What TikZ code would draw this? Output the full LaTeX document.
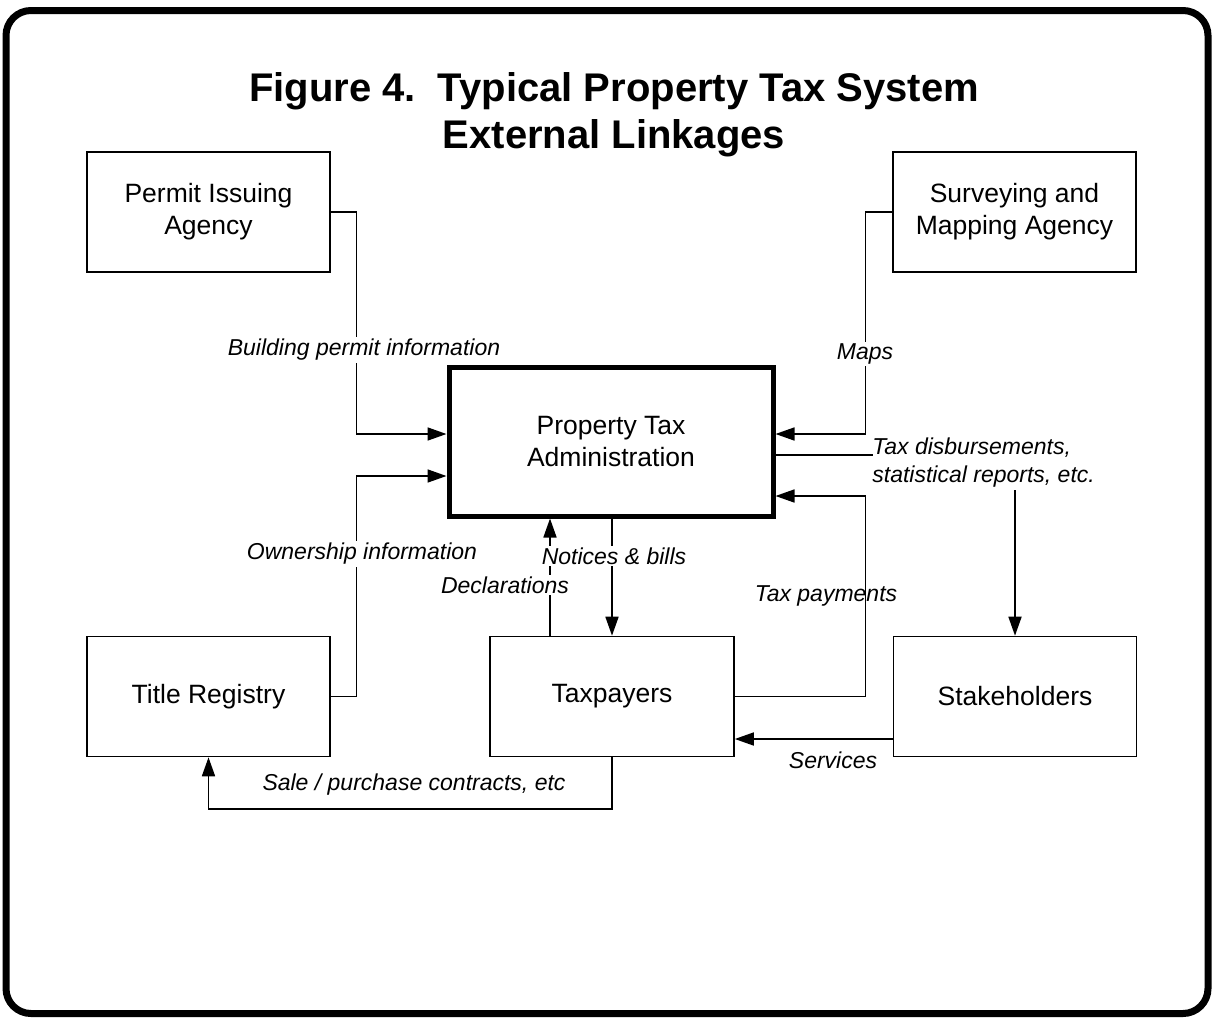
\documentclass[tikz,border=0pt]{standalone}
\usepackage{fontspec}
\setmainfont{Liberation Sans}
\usetikzlibrary{arrows.meta,calc}

\begin{document}
\begin{tikzpicture}[x=0.5pt,y=-0.5pt,
  box/.style={draw,line width=0.8pt,minimum width=121.5pt,minimum height=60pt,
    inner sep=0pt,align=center,font=\fontsize{13.25}{16}\selectfont},
  mainbox/.style={box,line width=2.5pt,minimum width=162pt,minimum height=74.5pt},
  link/.style={line width=0.85pt},
  arr/.style={link,-{Triangle[length=9.5pt,width=6.5pt]}},
  lbl/.style={font=\fontsize{11.5}{14}\selectfont\itshape,inner sep=1pt},
  masked/.style={lbl,fill=white},
  heading/.style={font=\fontsize{20}{23.5}\selectfont\bfseries,anchor=base}]

\useasboundingbox (0,0) rectangle (1215,1017);

% frame
\draw[line width=3.5pt,rounded corners=12.5pt] (6,10.5) rectangle (1208,1013.5);

% heading
\node[heading] (head1) at (614,101) {Figure 4.\ \ Typical Property Tax System};
\node[heading] (head2) at (614,148) {External Linkages};

% boxes
\node[box] (permit) at (208.5,212) {Permit Issuing\\Agency};
\node[box] (survey) at (1014.5,212) {Surveying and\\Mapping Agency};
\node[mainbox] (pta) at (611,441.5) {Property Tax\\Administration};
\node[box] (title) at (208.5,696.5) {Title Registry};
\node[box,minimum width=122pt] (taxp) at (612,696.5) {Taxpayers};
\node[box] (stake) at (1015,696.5) {Stakeholders};

% disbursement label (also the start of the arrow to the stakeholders)
\node[lbl,anchor=west,align=left] (disb) at (870,463)
  {Tax disbursements,\\statistical reports, etc.};

% connectors
\draw[arr] (permit.east) -| ($(pta.west)+(-90,-7.5)$) -- ($(pta.west)+(0,-7.5)$);
\draw[arr] (survey.west) -| ($(pta.east)+(90,-7.5)$) -- ($(pta.east)+(0,-7.5)$);
\draw[arr] (title.east) -| ($(pta.west)+(-90,34.5)$) -- ($(pta.west)+(0,34.5)$);
\draw[arr] (taxp.east) -| ($(pta.east)+(90,54.5)$) -- ($(pta.east)+(0,54.5)$);
\draw[link] ($(pta.east)+(0,13.5)$) -- ($(pta.east)+(97,13.5)$);
\draw[arr] (stake.north |- disb.south) -- (stake.north);
\draw[arr] (pta.south -| taxp.north) -- (taxp.north);
\draw[arr] ($(taxp.north)+(-62,0)$) -- ($(taxp.north |- pta.south)+(-62,0)$);
\draw[arr] ($(stake.west)+(0,42.5)$) -- ($(taxp.east)+(0,42.5)$);
\draw[arr] (taxp.south) -- ++(0,52) -| (title.south);

% connector labels
\node[masked] (lbpermit) at (364,350) {Building permit information};
\node[masked] (lbmaps) at (865,354) {Maps};
\node[masked] (lbown) at (362,554) {Ownership information};
\node[masked] (lbnotice) at (614,556) {Notices \& bills};
\node[masked] (lbdecl) at (505,585) {Declarations};
\node[lbl] (lbpay) at (826,596) {Tax payments};
\node[lbl] (lbserv) at (833,760) {Services};
\node[lbl] (lbsale) at (414,785) {Sale / purchase contracts, etc};

\end{tikzpicture}
\end{document}
